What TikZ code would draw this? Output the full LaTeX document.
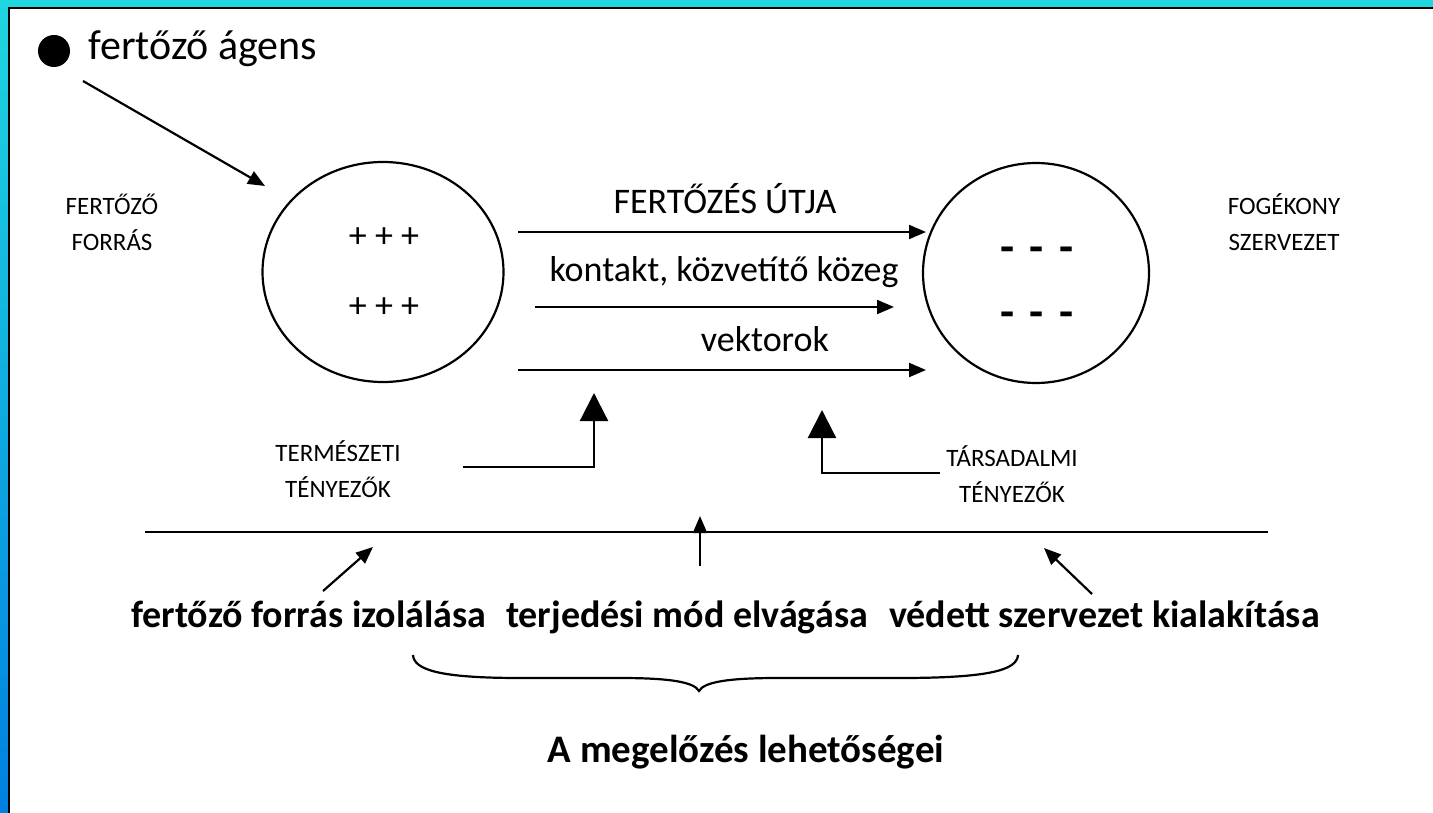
\documentclass[tikz,border=0pt]{standalone}
\usepackage{fontspec}
\setmainfont{Carlito}
\usetikzlibrary{arrows.meta,shapes.geometric}
\definecolor{framecyan}{HTML}{1FD6DF}
\definecolor{frameblue}{HTML}{0080E0}
\begin{document}
\begin{tikzpicture}[x=1pt,y=-1pt,
  big/.style={font=\fontsize{36}{40}\selectfont},
  small/.style={font=\fontsize{25}{36}\selectfont, align=center},
  bold/.style={font=\fontsize{38}{46}\selectfont\bfseries},
  arr/.style={line width=2.2pt,-{Triangle[length=17pt,width=14pt]}},
  bigarr/.style={line width=2.2pt,-{Triangle[length=28pt,width=28pt]}},
  ring/.style={draw,line width=2.2pt,ellipse,minimum width=241pt,minimum height=220pt,inner sep=0pt},
  dashes/.style={font=\fontsize{46}{50}\selectfont\bfseries}]
\useasboundingbox (0,0) rectangle (1433,813);
\fill[white] (0,0) rectangle (1433,813);
% frame
\fill[framecyan] (0,0) rectangle (1433,7);
\shade[top color=framecyan, bottom color=frameblue] (0,0) rectangle (8,813);
\fill[black] (8,7) rectangle (1433,9);
\fill[black] (8,7) rectangle (10,813);

% agent
\node[circle,fill=black,minimum size=32pt,inner sep=0pt] (dot) at (54,51) {};
\node[anchor=base west,font=\fontsize{42}{50}\selectfont] (agens) at (85,60) {fertőző ágens};
\coordinate (a0) at (83,81);
\coordinate (a1) at (265,186);
\draw[arr] (a0) -- (a1);

% circles
\node[ring] (src) at (383,272) {};
\node[ring,minimum width=226pt] (host) at (1036,273) {};
\node[big] (p1) at (384,238) {+ + +};
\node[big] (p2) at (384,308) {+ + +};
\node[dashes] (m1) at (1037,255) {-\hspace{15pt}-\hspace{15pt}-};
\node[dashes] (m2) at (1037,320) {-\hspace{15pt}-\hspace{15pt}-};

\node[small] (forras) at (112,222) {FERTŐZŐ\\FORRÁS};
\node[small] (fogek) at (1284,222) {FOGÉKONY\\SZERVEZET};

% routes
\coordinate (r1a) at (518,232); \coordinate (r1b) at (926,232);
\coordinate (r2a) at (535,307); \coordinate (r2b) at (894,307);
\coordinate (r3a) at (518,370); \coordinate (r3b) at (926,370);
\draw[arr] (r1a) -- (r1b);
\draw[arr] (r2a) -- (r2b);
\draw[arr] (r3a) -- (r3b);
\node[big] (t1) at (725,199) {FERTŐZÉS ÚTJA};
\node[big] (t2) at (724,272) {kontakt, közvetítő közeg};
\node[big] (t3) at (765,339) {vektorok};

% factors
\node[small] (term) at (338,469) {TERMÉSZETI\\TÉNYEZŐK};
\node[small] (tars) at (1012,474) {TÁRSADALMI\\TÉNYEZŐK};
\coordinate (e1) at (463,467); \coordinate (e1t) at (594,393);
\coordinate (e2) at (940,473); \coordinate (e2t) at (822,410);
\draw[bigarr] (e1) -| (e1t);
\draw[bigarr] (e2) -| (e2t);

% separator
\coordinate (s0) at (145,532); \coordinate (s1) at (1268,532);
\draw[line width=2.2pt] (s0) -- (s1);

% prevention
\node[bold,anchor=base west,inner sep=0pt] (b1) at (131,627) {fertőző forrás izolálása};
\node[bold,anchor=base,inner sep=0pt] (b2) at (687,627) {terjedési mód elvágása};
\node[bold,anchor=base east,inner sep=0pt] (b3) at (1320,627) {védett szervezet kialakítása};
\coordinate (q1s) at (323,591); \coordinate (q1) at (373,547);
\coordinate (q2s) at (700,566); \coordinate (q2) at (700,516);
\coordinate (q3s) at (1092,594); \coordinate (q3) at (1044,548);
\draw[arr] (q1s) -- (q1);
\draw[arr] (q2s) -- (q2);
\draw[arr] (q3s) -- (q3);

% brace
\draw[line width=2.2pt] (413,655) .. controls (414,670) and (440,678) .. (520,678)
  -- (620,678) .. controls (670,678) and (694,682) .. (699,691)
  .. controls (704,682) and (728,678) .. (778,678)
  -- (900,678) .. controls (990,678) and (1017,670) .. (1018,655);
\node[bold,font=\fontsize{39}{46}\selectfont\bfseries] (goal) at (746,752) {A megelőzés lehetőségei};
\end{tikzpicture}
\end{document}
